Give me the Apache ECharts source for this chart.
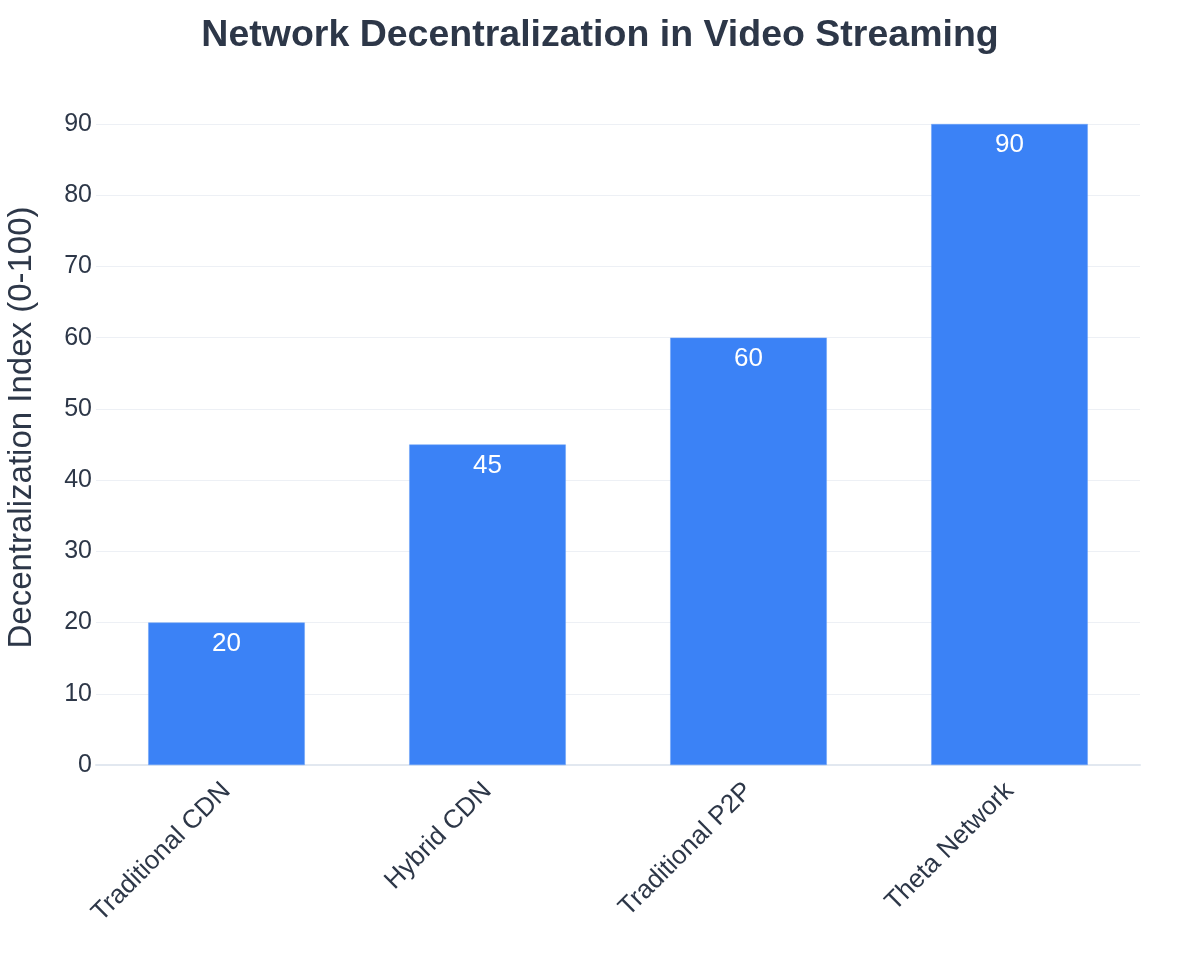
<!DOCTYPE html>
<html>
<head>
<meta charset="utf-8">
<script src="https://cdn.jsdelivr.net/npm/echarts@6/dist/echarts.min.js"></script>
<style>
  html, body { margin: 0; padding: 0; background: #fff; }
  #chart { width: 1200px; height: 975px; }
</style>
</head>
<body>
<div id="chart"></div>
<script>
const categories = ['Traditional CDN', 'Hybrid CDN', 'Traditional P2P', 'Theta Network']
const values = [20, 45, 60, 90]
const yTicks = [0, 10, 20, 30, 40, 50, 60, 70, 80, 90]

const font = '"Liberation Sans", Arial, sans-serif'
const textColor = '#2d3748'

const chart = echarts.init(document.getElementById('chart'))
chart.setOption({
  textStyle: { fontFamily: font },
  title: {
    text: 'Network Decentralization in Video Streaming',
    left: 'center',
    top: 12,
    textStyle: { fontSize: 37.5, fontWeight: 'bold', color: textColor, fontFamily: font }
  },
  grid: { left: 96, right: 60, top: 124, bottom: 210, outerBoundsMode: 'none' },
  xAxis: {
    type: 'category',
    data: categories,
    axisTick: { show: false },
    axisLine: { lineStyle: { color: '#e2e8f0', width: 2 } },
    axisLabel: {
      rotate: 45,
      fontSize: 26,
      color: textColor,
      margin: 22,
      interval: 0
    }
  },
  yAxis: {
    type: 'value',
    min: yTicks[0],
    max: yTicks[yTicks.length - 1],
    interval: 10,
    name: 'Decentralization Index (0-100)',
    nameLocation: 'middle',
    nameGap: 58,
    nameTextStyle: { fontSize: 33, color: textColor, padding: [0, 0, 0, 34] },
    axisLine: { show: false },
    axisTick: { show: false },
    axisLabel: { fontSize: 25, color: textColor, margin: 4 },
    splitLine: { lineStyle: { color: '#edf0f5', width: 1 } }
  },
  series: [
    {
      type: 'bar',
      data: values,
      barWidth: '60%',
      itemStyle: { color: '#3b82f6', borderColor: '#6aa0f7', borderWidth: 0.5 },
      label: {
        show: true,
        position: 'insideTop',
        distance: 8,
        color: '#ffffff',
        fontSize: 26
      }
    }
  ]
})
</script>
</body>
</html>
